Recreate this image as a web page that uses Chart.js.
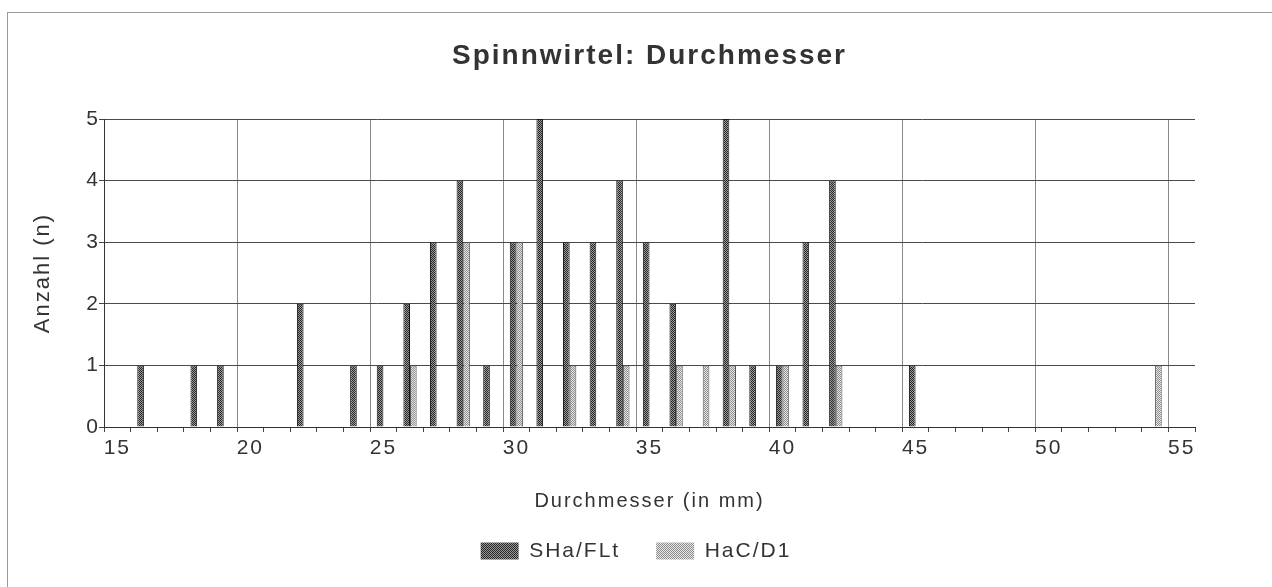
<!DOCTYPE html>
<html>
<head>
<meta charset="utf-8">
<script src="https://cdn.jsdelivr.net/npm/chart.js@4/dist/chart.umd.min.js"></script>
<style>
  html, body { margin: 0; padding: 0; background: #fff; }
  #frame { position: absolute; left: 7px; top: 12px; width: 1280px; height: 600px;
           border-left: 1px solid #9a9a9a; border-top: 1px solid #9a9a9a; }
  #c { position: absolute; left: 0; top: 0; }
</style>
</head>
<body>
<div id="frame"></div>
<canvas id="c" width="1272" height="587"></canvas>
<script>
// ---- data ----
const categories = ['15','16','17','18','19','20','21','22','23','24','25','26','27','28','29','30',
  '31','32','33','34','35','36','37','38','39','40','41','42','43','44','45',
  '46','47','48','49','50','51','52','53','54','55'];
const shaFLt = [0,1,0,1,1,0,0,2,0,1,1,2,3,4,1,3,5,3,3,4,3,2,0,5,1,1,3,4,0,0,1,0,0,0,0,0,0,0,0,0,0];
const hacD1  = [0,0,0,0,0,0,0,0,0,0,0,1,0,3,0,3,0,1,0,1,0,1,1,1,0,1,0,1,0,0,0,0,0,0,0,0,0,0,0,1,0];
const yTicks = [0,1,2,3,4,5];
const seriesNames = ['SHa/FLt', 'HaC/D1'];
const titleText = 'Spinnwirtel: Durchmesser';
const xTitle = 'Durchmesser (in mm)';
const yTitle = 'Anzahl (n)';

function makePattern(c1, c2) {
  const p = document.createElement('canvas');
  p.width = 2; p.height = 2;
  const g = p.getContext('2d');
  g.fillStyle = c1; g.fillRect(0,0,2,2);
  g.fillStyle = c2; g.fillRect(0,0,1,1); g.fillRect(1,1,1,1);
  return g.createPattern(p, 'repeat');
}
const darkPat = makePattern('#9a9a9a', '#262626');
const lightPat = makePattern('#e6e6e6', '#8e8e8e');

const FONT = "'Liberation Sans', Arial, sans-serif";
const TXT = '#333';

const spacingPlugin = {
  id: 'spacing',
  beforeLayout(chart) { chart.ctx.letterSpacing = '2px'; },
  beforeDraw(chart) { chart.ctx.letterSpacing = '2px'; }
};

new Chart(document.getElementById('c'), {
  type: 'bar',
  data: {
    labels: categories,
    datasets: [
      { label: seriesNames[0], data: shaFLt, backgroundColor: darkPat, borderColor: '#1a1a1a', borderWidth: 1,
        categoryPercentage: 0.5, barPercentage: 1.0 },
      { label: seriesNames[1], data: hacD1, backgroundColor: lightPat, borderColor: '#555', borderWidth: 1,
        categoryPercentage: 0.5, barPercentage: 1.0 }
    ]
  },
  options: {
    responsive: false,
    animation: false,
    layout: { padding: { left: 0, right: 0, top: 0, bottom: 15.5 } },
    plugins: {
      title: { display: true, fullSize: false, text: titleText, color: TXT,
        font: { family: FONT, size: 28, weight: 'bold' }, padding: { top: 39, bottom: 46.4 } },
      legend: { position: 'bottom',
        labels: { color: TXT, font: { family: FONT, size: 21 }, boxWidth: 38, boxHeight: 17, padding: 36,
          generateLabels(chart) {
            const items = Chart.defaults.plugins.legend.labels.generateLabels(chart);
            items.forEach(it => { it.lineWidth = 0; });
            return items;
          } } },
      tooltip: { enabled: false }
    },
    scales: {
      x: {
        grid: { offset: true, drawOnChartArea: true,
          color: (ctx) => (ctx.index % 5 === 0 ? '#8a8a8a' : 'rgba(0,0,0,0)'),
          tickColor: '#444', tickLength: 5, lineWidth: 1 },
        border: { color: '#333', width: 1 },
        ticks: { autoSkip: false, maxRotation: 0, color: TXT, padding: 4,
          font: { family: FONT, size: 21 },
          callback: function(v, i) { return i % 5 === 0 ? categories[i] : ''; } },
        title: { display: true, text: xTitle, color: TXT, font: { family: FONT, size: 20 },
          padding: { top: 0, bottom: -8.5 } },
        afterFit: (s) => { s.height = 77.5; }
      },
      y: {
        min: 0, max: 5,
        afterBuildTicks: (s) => { s.ticks = yTicks.map(v => ({ value: v })); },
        grid: { color: '#4a4a4a', tickColor: '#444', tickLength: 5 },
        border: { color: '#333', width: 1 },
        ticks: { color: TXT, padding: -1, font: { family: FONT, size: 21 } },
        title: { display: true, text: yTitle, color: TXT, font: { family: FONT, size: 22 },
          padding: { top: 30, bottom: 0 } },
        afterFit: (s) => { s.width = 104; }
      },
      yRight: {
        type: 'linear', position: 'right', display: true,
        grid: { display: false }, border: { display: false }, ticks: { display: false },
        afterFit: (s) => { s.width = 77; }
      }
    }
  },
  plugins: [spacingPlugin]
});
</script>
</body>
</html>
